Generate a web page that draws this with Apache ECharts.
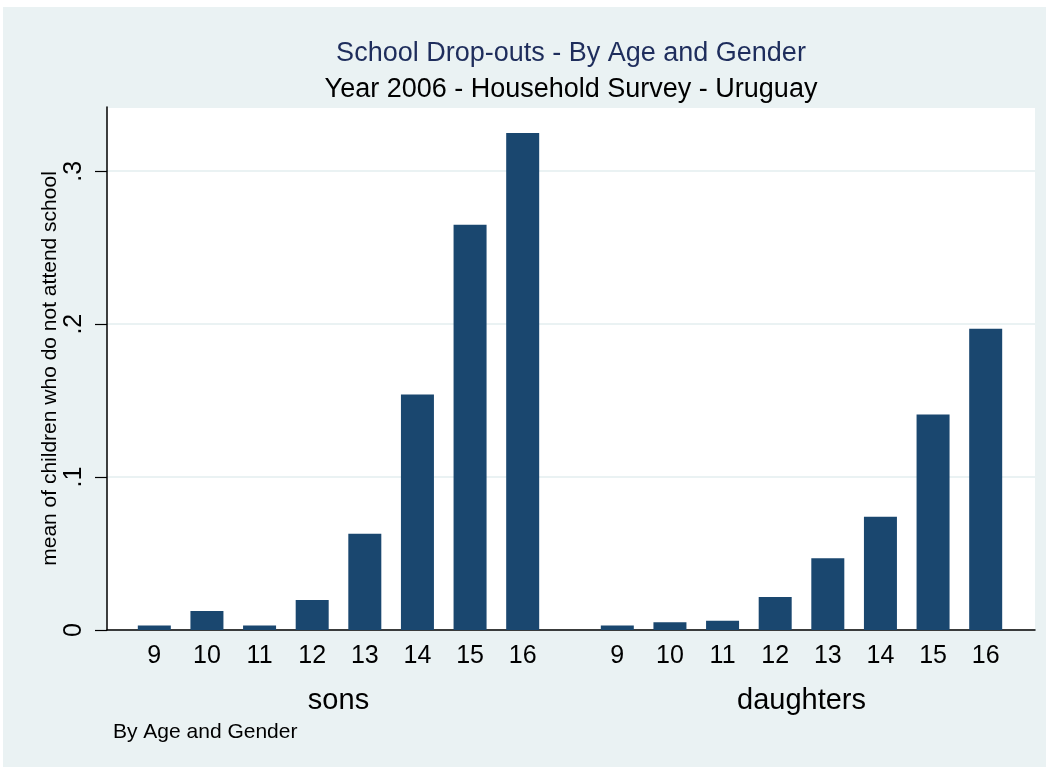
<!DOCTYPE html>
<html>
<head>
<meta charset="utf-8">
<script src="https://cdn.jsdelivr.net/npm/echarts@6/dist/echarts.min.js"></script>
<style>
html,body{margin:0;padding:0;background:#ffffff;}
#chart{width:1051px;height:771px;}
</style>
</head>
<body>
<div id="chart"></div>
<script>
var ages = ['9','10','11','12','13','14','15','16'];
var sons = [0.003, 0.0125, 0.003, 0.0196, 0.063, 0.154, 0.265, 0.325];
var daughters = [0.003, 0.005, 0.006, 0.0216, 0.047, 0.074, 0.141, 0.197];
var groupNames = ['sons', 'daughters'];
var titleText = 'School Drop-outs - By Age and Gender';
var subtitleText = 'Year 2006 - Household Survey - Uruguay';
var yTitle = 'mean of children who do not attend school';
var noteText = 'By Age and Gender';

var YMAX = 0.342;
var FONT = 'Liberation Sans, Arial, Helvetica, sans-serif';
var BAR = '#1A476F';
var BG = '#EAF2F3';

var chart = echarts.init(document.getElementById('chart'), null, {renderer: 'canvas'});

function fmtY(v) {
  if (v === 0) return '0';
  return String(Math.round(v * 10) / 10).replace(/^0/, '');
}

var option = {
  backgroundColor: '#ffffff',
  animation: false,
  graphic: [
    {type: 'rect', z: -10, shape: {x: 3, y: 7, width: 1043, height: 760}, style: {fill: BG}},
    {type: 'text', left: 113, top: 722, style: {text: noteText, font: '21px ' + FONT, fill: '#000'}}
  ],
  title: [
    {text: titleText, left: 566, top: 35, textAlign: 'center',
     textStyle: {fontFamily: FONT, fontSize: 27, fontWeight: 'normal', color: '#1E2D5C'}},
    {text: subtitleText, left: 566, top: 71, textAlign: 'center',
     textStyle: {fontFamily: FONT, fontSize: 27, fontWeight: 'normal', color: '#000'}}
  ],
  grid: [
    {left: 107, top: 107, width: 928, height: 523, show: true, backgroundColor: '#ffffff', borderWidth: 0, containLabel: false},
    {left: 128, top: 107, width: 421, height: 523, containLabel: false},
    {left: 591, top: 107, width: 421, height: 523, containLabel: false}
  ],
  xAxis: [
    {gridIndex: 0, type: 'value', min: 0, max: 1, axisLine: {show: true, onZero: false, lineStyle: {color: '#000', width: 1.5}},
     axisTick: {show: false}, axisLabel: {show: false}, splitLine: {show: false}},
    {gridIndex: 1, type: 'category', data: ages, axisLine: {show: false}, axisTick: {show: false},
     axisLabel: {fontFamily: FONT, fontSize: 25, color: '#000', margin: 14},
     name: groupNames[0], nameLocation: 'middle', nameGap: 56,
     nameTextStyle: {fontFamily: FONT, fontSize: 29, color: '#000'}},
    {gridIndex: 2, type: 'category', data: ages, axisLine: {show: false}, axisTick: {show: false},
     axisLabel: {fontFamily: FONT, fontSize: 25, color: '#000', margin: 14},
     name: groupNames[1], nameLocation: 'middle', nameGap: 56,
     nameTextStyle: {fontFamily: FONT, fontSize: 29, color: '#000'}}
  ],
  yAxis: [
    {gridIndex: 0, type: 'value', min: 0, max: YMAX, interval: 0.1,
     axisLine: {show: true, lineStyle: {color: '#000', width: 1.5}},
     axisTick: {show: true, length: 12, lineStyle: {color: '#000', width: 1.2}},
     axisLabel: {rotate: 90, fontFamily: FONT, fontSize: 25, color: '#000', margin: 20, formatter: fmtY, showMaxLabel: false},
     splitLine: {show: true, lineStyle: {color: BG, width: 2}},
     name: yTitle, nameLocation: 'middle', nameGap: 46, nameRotate: 90, nameMoveOverlap: false,
     nameTextStyle: {fontFamily: FONT, fontSize: 21, color: '#000'}},
    {gridIndex: 1, type: 'value', min: 0, max: YMAX, show: false, splitLine: {show: false}},
    {gridIndex: 2, type: 'value', min: 0, max: YMAX, show: false, splitLine: {show: false}}
  ],
  series: [
    {type: 'bar', name: groupNames[0], xAxisIndex: 1, yAxisIndex: 1, data: sons, barWidth: 33,
     itemStyle: {color: BAR}},
    {type: 'bar', name: groupNames[1], xAxisIndex: 2, yAxisIndex: 2, data: daughters, barWidth: 33,
     itemStyle: {color: BAR}}
  ]
};
chart.setOption(option);
</script>
</body>
</html>
